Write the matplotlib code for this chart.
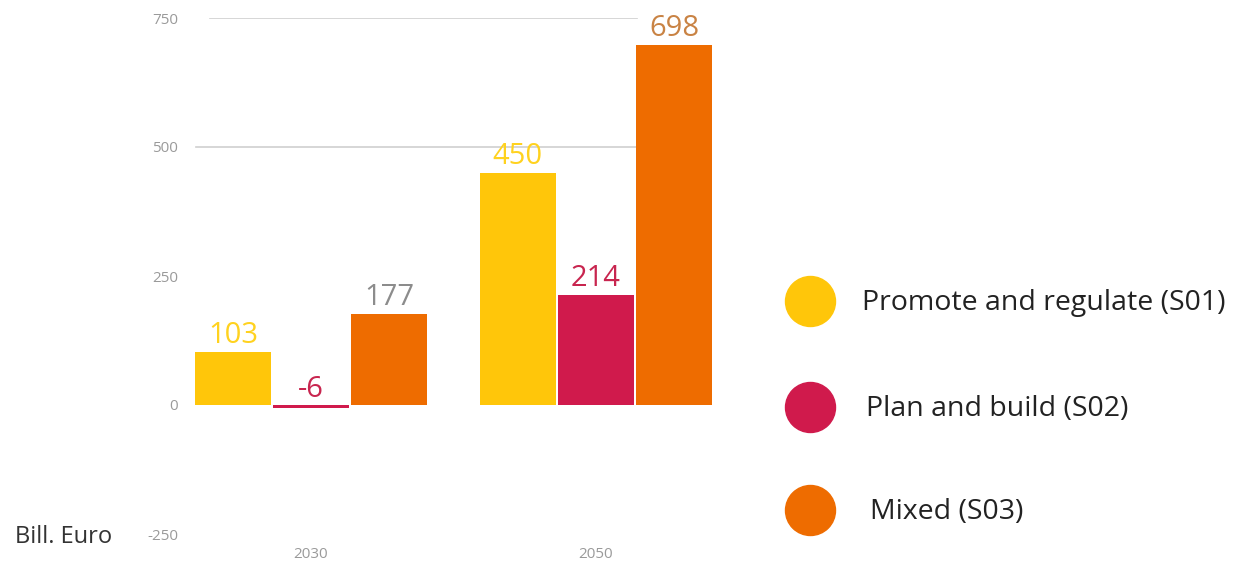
import matplotlib
matplotlib.use("Agg")
import matplotlib.pyplot as plt
from matplotlib.lines import Line2D
import numpy as np

years = ["2030", "2050"]
series = ["Promote and regulate (S01)", "Plan and build (S02)", "Mixed (S03)"]
values = {
    "Promote and regulate (S01)": [103, 450],
    "Plan and build (S02)": [-6, 214],
    "Mixed (S03)": [177, 698],
}
bar_colors = ["#FFC60A", "#D01A4C", "#EE6C00"]
label_colors = ["#FFD21F", "#C8254F", "#8C8C8C"]
label_color_top = "#C98344"
yticks = [-250, 0, 250, 500, 750]

plt.rcParams["font.family"] = ["Open Sans", "DejaVu Sans"]

fig = plt.figure(figsize=(12.56, 5.65), dpi=100)
W, H = 1256, 565
ax = fig.add_axes([185 / W, 1 - 534 / H, (730 - 185) / W, (534 - 18) / H])

x = np.arange(len(years))
width = 0.267
step = 0.274

for i, name in enumerate(series):
    vals = values[name]
    pos = x + (i - 1) * step
    ax.bar(pos, vals, width=width, color=bar_colors[i], zorder=3)
    for j, (p, v) in enumerate(zip(pos, vals)):
        c = label_colors[i]
        if i == 2 and j == 1:
            c = label_color_top
        ax.annotate(f"{v}", (p, max(v, 0)), xytext=(0, 1), textcoords="offset points",
                    ha="center", va="bottom", fontsize=21, color=c, zorder=4)

ax.axhline(500, xmin=0.02, xmax=0.83, color="#CFCFCF", lw=1.2, zorder=1)
ax.axhline(750, xmin=0.045, xmax=0.83, color="#CFCFCF", lw=1.2, zorder=1)

ax.set_ylim(-250, 750)
ax.set_xlim(-0.442, 1.47)
ax.set_yticks(yticks)
ax.set_yticklabels([str(t) for t in yticks], fontsize=11, color="#9A9A9A")
ax.set_xticks(x)
ax.set_xticklabels(years, fontsize=11, color="#9A9A9A")
ax.tick_params(length=0, pad=5)
ax.tick_params(axis="x", pad=9)
for s in ax.spines.values():
    s.set_visible(False)

fig.text(15 / W, 1 - 537 / H, "Bill. Euro", fontsize=17, color="#333333",
         ha="left", va="center")

leg_y = [301, 407, 510]
leg_tx = [862, 866, 870]
for i, name in enumerate(series):
    fig.add_artist(Line2D([810 / W], [1 - leg_y[i] / H], marker="o", markersize=36,
                          color=bar_colors[i], transform=fig.transFigure))
    fig.text(leg_tx[i] / W, 1 - (leg_y[i] + 2) / H, name, fontsize=20.5, color="#222222",
             ha="left", va="center")

fig.savefig("out.png", dpi=100, facecolor="white")
